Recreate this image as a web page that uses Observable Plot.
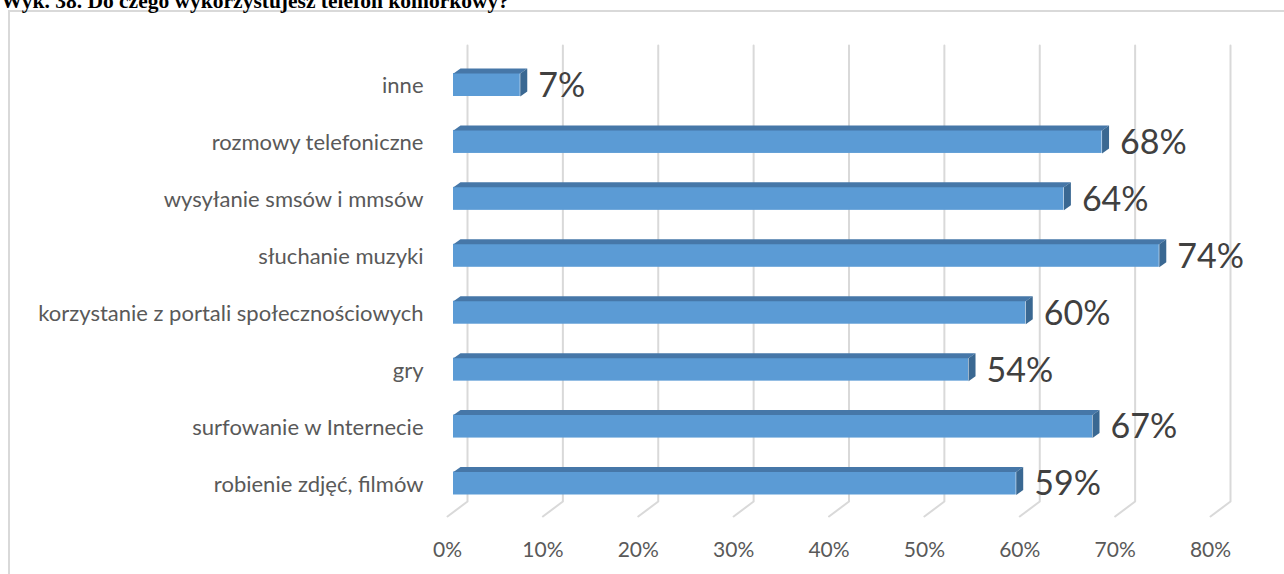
<!DOCTYPE html>
<html>
<head>
<meta charset="utf-8">
<script src="https://cdn.jsdelivr.net/npm/d3@7"></script>
<script src="https://cdn.jsdelivr.net/npm/@observablehq/plot@0.6"></script>
<style>
  html, body { margin: 0; padding: 0; background: #fff; overflow: hidden; }
  #wrap { position: relative; width: 1284px; height: 574px; }
  #title { position: absolute; left: 1px; top: -9px; font-family: "Liberation Serif", "Times New Roman", serif; font-weight: bold; font-size: 21.5px; line-height: 21.5px; color: #000; white-space: nowrap; z-index: 2; }
  #frame { position: absolute; left: 8px; top: 10px; width: 1400px; height: 700px; border-left: 2px solid #d9d9d9; border-top: 2px solid #d9d9d9; box-sizing: border-box; }
  #chart { position: absolute; left: 0; top: 0; }
</style>
</head>
<body>
<div id="wrap">
  <div id="frame"></div>
  <div id="title">Wyk. 38. Do czego wykorzystujesz telefon komórkowy?</div>
  <div id="chart"></div>
</div>
<script>
const categories = ["inne", "rozmowy telefoniczne", "wysyłanie smsów i mmsów", "słuchanie muzyki", "korzystanie z portali społecznościowych", "gry", "surfowanie w Internecie", "robienie zdjęć, filmów"];
const values = [7, 68, 64, 74, 60, 54, 67, 59];
const tickValues = [0, 10, 20, 30, 40, 50, 60, 70, 80];

const data = categories.map((c, i) => ({c, v: values[i], i}));

// scale definitions (shared by Plot and pixel-offset helpers)
const xDomain = [0, 80], xRange = [453, 1216];
const yDomain = [0, 7], yRange = [84.5, 483];
const xs = d3.scaleLinear(xDomain, xRange);
const ys = d3.scaleLinear(yDomain, yRange);
const pxX = p => xs.invert(xRange[0] + p) - xDomain[0];
const pxY = p => ys.invert(yRange[0] + p) - yDomain[0];

const halfH = pxY(11.5);
const depthX = pxX(7), depthY = pxY(5);

const topFaces = data.flatMap(d => [
  {id: d.i, x: 0, y: d.i - halfH},
  {id: d.i, x: d.v, y: d.i - halfH},
  {id: d.i, x: d.v + depthX, y: d.i - halfH - depthY},
  {id: d.i, x: depthX, y: d.i - halfH - depthY}
]);
const sideFaces = data.flatMap(d => [
  {id: d.i, x: d.v, y: d.i - halfH},
  {id: d.i, x: d.v + depthX, y: d.i - halfH - depthY},
  {id: d.i, x: d.v + depthX, y: d.i + halfH - depthY},
  {id: d.i, x: d.v, y: d.i + halfH}
]);
const grid = tickValues.flatMap(t => [
  {t, x: t + pxX(14), y: ys.invert(45)},
  {t, x: t + pxX(14), y: ys.invert(501)},
  {t, x: t - pxX(6), y: ys.invert(516)}
]);

const chart = Plot.plot({
  width: 1284,
  height: 574,
  marginTop: 0, marginBottom: 0, marginLeft: 0, marginRight: 0,
  style: {background: "transparent", fontFamily: "Lato, 'Open Sans', sans-serif"},
  x: {domain: xDomain, range: xRange, axis: null},
  y: {domain: yDomain, range: yRange, axis: null},
  marks: [
    Plot.line(grid, {x: "x", y: "y", z: "t", stroke: "#d9d9d9", strokeWidth: 2, curve: "linear"}),
    Plot.rect(data, {x1: 0, x2: "v", y1: d => d.i - halfH, y2: d => d.i + halfH, fill: "#5b9bd5", inset: 0}),
    Plot.line(topFaces, {x: "x", y: "y", z: "id", fill: "#4677a8", stroke: "none", curve: "linear"}),
    Plot.line(sideFaces, {x: "x", y: "y", z: "id", fill: "#3a6892", stroke: "none", curve: "linear"}),
    Plot.text(data, {x: 0, y: "i", text: "c", textAnchor: "end", dx: -30, dy: 1, fontSize: 22, fill: "#595959"}),
    Plot.text(data, {x: "v", y: "i", text: d => d.v + "%", textAnchor: "start", dx: 18, dy: 1, fontSize: 34, fill: "#404040"}),
    Plot.text(tickValues, {x: t => t, y: ys.invert(550), dx: -6, text: t => t + "%", fontSize: 21, fill: "#595959"})
  ]
});
document.getElementById("chart").appendChild(chart);
</script>
</body>
</html>
